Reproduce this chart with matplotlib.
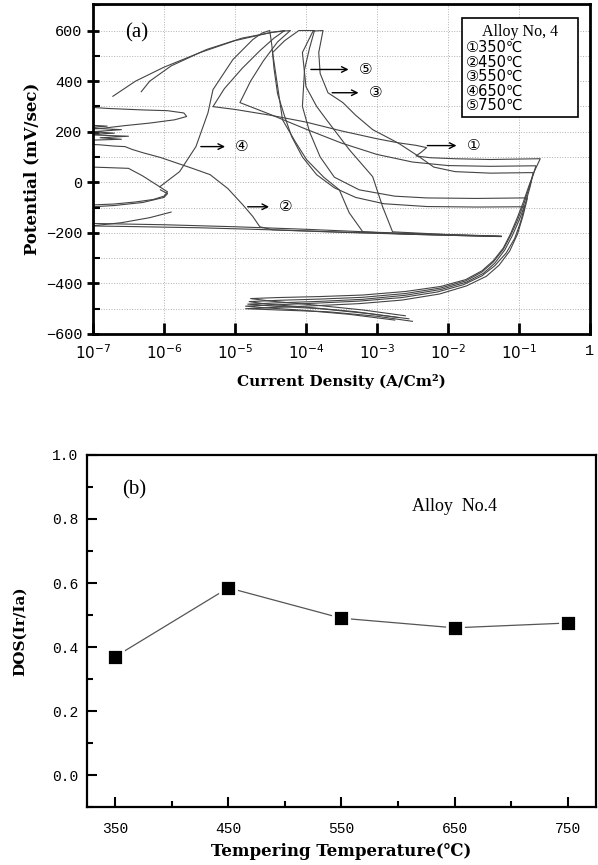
import numpy as np
import matplotlib
matplotlib.use('Agg')
import matplotlib.pyplot as plt
from matplotlib.patches import Rectangle
from matplotlib.ticker import MultipleLocator, NullLocator, FixedLocator

nan = np.nan

# ---- panel (a): polarization curves, log10(i) [A/cm2] vs potential [mV]
c1_logi = [-2.60, -3.20, -3.90, -4.50, -4.78, -4.40, -3.80, -3.20, -2.60, -2.10, -1.75, -1.52, -1.36, -1.22, -1.12, -1.03, -0.94, -0.86, -0.78, -0.70,
           -0.95, -1.40, -1.90, -2.25, -2.45, -2.38, -2.30, -2.45, -2.70, -3.00, -3.50, -4.00, -4.50, -5.00, -5.31, -5.15, -4.90, -4.65, -4.45, -4.30,
           -4.50, -5.00, -5.50, -6.00, -6.40, -6.72, nan,
           -7.2, -6.8, -6.3, -5.95, -5.72, -5.68, -5.85, -6.2, -6.55, -6.85, -7.2, nan,
           -7.2, -6.0, -5.0, -4.0, -3.0, -2.0, -1.5, -1.25]
c1_E = [-528, -505, -485, -470, -460, -456, -452, -446, -432, -412, -385, -350, -310, -260, -205, -145, -80, -15, 45, 93,
        92, 90, 93, 97, 104, 118, 137, 146, 156, 172, 203, 238, 265, 288, 299, 370, 450, 520, 570, 600,
        592, 560, 512, 455, 400, 340, nan,
        300, 292, 286, 283, 274, 260, 247, 234, 224, 214, 206, nan,
        -162, -168, -176, -186, -198, -207, -211, -214]

c2_logi = [-2.70, -3.30, -4.00, -4.55, -4.80, -4.40, -3.80, -3.20, -2.60, -2.10, -1.75, -1.52, -1.36, -1.22, -1.12, -1.02, -0.93, -0.85, -0.76,
           -0.82, -1.40, -2.00, -2.50, -3.00, -3.50, -4.00, -4.50, -4.93, -4.78, -4.60, -4.40, -4.22,
           -4.45, -4.90, -5.40, -5.90, -6.20, -6.32, nan,
           -7.2, -6.9, -6.7, -6.55, -6.45, -6.30, -6.05, -5.83, -5.60, -5.35, -5.10, -4.89, -4.75, -4.65, -4.47, -3.50, -2.50, -1.80, -1.25]
c2_E = [-535, -512, -494, -482, -472, -467, -462, -455, -440, -418, -390, -355, -315, -265, -212, -150, -85, -15, 65,
        65, 63, 66, 80, 110, 155, 210, 268, 315, 400, 480, 555, 600,
        594, 570, 525, 460, 400, 358, nan,
        152, 148, 143, 141, 130, 117, 98, 77, 55, 30, -25, -89, -135, -176, -188, -197, -205, -210, -214]

c3_logi = [-2.55, -3.10, -3.80, -4.45, -4.82, -4.40, -3.80, -3.20, -2.60, -2.10, -1.74, -1.50, -1.34, -1.20, -1.10, -1.00, -0.91, -0.84, -0.80,
           -0.86, -1.40, -1.90, -2.20, -2.40, -2.70, -3.06, -3.30, -3.48, -3.69, -3.80, -3.82, -3.76,
           -3.90, -4.05, -4.00, -3.85, -3.71, -3.39, -3.06, -2.92, -2.78, -2.00, -1.25, nan,
           -7.2, -6.8, -7.1, -6.6, -7.0, -6.7, -7.1, -6.5, -6.9, -6.6, -7.2]
c3_E = [-540, -520, -500, -490, -482, -477, -471, -463, -447, -424, -395, -360, -320, -268, -215, -152, -85, -15, 38,
        38, 36, 42, 60, 100, 155, 208, 265, 315, 354, 430, 513, 600,
        598, 513, 378, 300, 247, 129, 22, -97, -196, -207, -214, nan,
        228, 222, 215, 208, 200, 194, 188, 182, 176, 170, 165]

c4_logi = [-2.75, -3.40, -4.10, -4.60, -4.85, -4.45, -3.85, -3.25, -2.65, -2.15, -1.78, -1.52, -1.34, -1.18, -1.06, -0.98, -0.92,
           -0.98, -1.60, -2.30, -2.90, -3.30, -3.60, -3.85, -4.05, -4.20, -4.30, -4.40, -4.45, -4.48, -4.51,
           -4.62, -4.75, -5.03, -5.31, -5.38, -5.55, -5.78, -6.06, -5.95, -6.00, -6.15, -6.40, -6.70, -7.20, nan,
           -7.2, -6.5, -5.5, -4.5, -3.5, -2.5, -1.8, -1.25]
c4_E = [-545, -522, -505, -496, -490, -485, -478, -470, -456, -434, -405, -370, -330, -280, -222, -160, -97,
        -97, -98, -96, -85, -60, -22, 30, 100, 180, 260, 350, 450, 540, 600,
        590, 564, 485, 366, 275, 141, 42, -18, -38, -55, -68, -78, -86, -92, nan,
        -172, -175, -180, -188, -198, -206, -211, -215]

c5_logi = [-2.50, -3.00, -3.70, -4.40, -4.85, -4.45, -3.85, -3.25, -2.65, -2.12, -1.74, -1.46, -1.28, -1.13, -1.02, -0.94, -0.88,
           -0.94, -1.60, -2.30, -2.75, -3.25, -3.60, -3.80, -3.95, -4.05, -4.02, -3.95, -3.88,
           -4.10, -4.30, -4.47, -4.40, -4.33, -4.15, -3.99, -3.75, -3.53, -3.39, -3.20, -2.50, -1.80, -1.25, nan,
           -7.2, -6.8, -6.5, -6.3, -6.06, nan,
           -7.2, -6.7, -6.3, -6.0, -5.95, -6.05, nan,
           -7.2, -6.6, -6.2, -5.9]
c5_E = [-550, -530, -512, -505, -500, -495, -488, -480, -466, -442, -410, -372, -328, -272, -205, -130, -62,
        -62, -64, -62, -55, -30, 20, 100, 200, 300, 446, 530, 600,
        600, 560, 513, 380, 247, 160, 89, 20, -30, -121, -196, -206, -211, -214, nan,
        62, 58, 55, 25, -18, nan,
        -100, -92, -80, -60, -45, -30, nan,
        -178, -160, -140, -118]

legend_lines = ['\u2460350\u2103', '\u2461450\u2103', '\u2462550\u2103', '\u2463650\u2103', '\u2464750\u2103']
xtick_vals = [1e-7, 1e-6, 1e-5, 1e-4, 1e-3, 1e-2, 1e-1, 1]
xtick_labels = ['$10^{-7}$', '$10^{-6}$', '$10^{-5}$', '$10^{-4}$', '$10^{-3}$', '$10^{-2}$', '$10^{-1}$', '1']

# ---- panel (b): DOS vs tempering temperature
temps = [350, 450, 550, 650, 750]
dos = [0.37, 0.585, 0.49, 0.46, 0.475]

sym = ['DejaVu Sans', 'Noto Sans CJK KR']
serif = ['DejaVu Serif', 'Noto Sans CJK KR']
mono = 'Liberation Mono'

fig = plt.figure(figsize=(5.98, 8.65), dpi=100)

ax1 = fig.add_axes([0.1555, 0.6139, 0.831, 0.3815])
for logi, E in [(c1_logi, c1_E), (c2_logi, c2_E), (c3_logi, c3_E), (c4_logi, c4_E), (c5_logi, c5_E)]:
    ax1.plot(10 ** np.array(logi), E, color='#444444', lw=0.8)

ax1.set_xscale('log')
ax1.set_xlim(1e-7, 1)
ax1.set_ylim(-600, 705)
ax1.set_xticks(xtick_vals)
ax1.set_xticklabels(xtick_labels)
ax1.xaxis.set_minor_locator(NullLocator())
ax1.yaxis.set_major_locator(MultipleLocator(200))
ax1.yaxis.set_minor_locator(MultipleLocator(100))
ax1.grid(which='both', ls=':', color='#b0b0b0', lw=0.7)
ax1.tick_params(which='major', direction='inout', length=8, width=2, labelsize=11, labelfontfamily=mono)
ax1.tick_params(which='minor', direction='in', length=5, width=1.5)
ax1.tick_params(axis='x', which='major', direction='in', length=8, pad=7)
for s in ax1.spines.values():
    s.set_linewidth(2)
ax1.set_ylabel('Potential (mV/sec)', fontsize=12, fontweight='bold', family='DejaVu Serif', labelpad=4)
ax1.set_xlabel('Current Density (A/Cm\u00b2)', fontsize=11, fontweight='bold', family='DejaVu Serif', labelpad=8)
ax1.text(0.087, 0.912, '(a)', transform=ax1.transAxes, fontsize=15, family='Liberation Serif', ha='center', va='center')

# legend box
ax1.add_patch(Rectangle((0.742, 0.658), 0.234, 0.30, transform=ax1.transAxes, fc='white', ec='black', lw=1.2, zorder=5))
ax1.text(0.782, 0.915, 'Alloy No, 4', transform=ax1.transAxes, fontsize=11.5, family='Liberation Serif', ha='left', va='center', zorder=6)
for k, t in enumerate(legend_lines):
    ax1.text(0.750, 0.868 - k * 0.044, t, transform=ax1.transAxes, fontsize=10.5, family=sym, ha='left', va='center', zorder=6)

# arrows
arrows = [('\u2463', -5.52, -5.10, 141), ('\u2464', -3.97, -3.36, 446), ('\u2462', -3.67, -3.22, 354),
          ('\u2460', -2.33, -1.84, 145), ('\u2461', -4.86, -4.48, -97)]
for lab, x0, x1, y in arrows:
    ax1.annotate('', xy=(10 ** x1, y), xytext=(10 ** x0, y),
                 arrowprops=dict(arrowstyle='->', color='black', lw=1.0))
    ax1.text(10 ** (x1 + 0.2), y, lab, fontsize=11, family=sym, ha='center', va='center')

ax2 = fig.add_axes([0.1455, 0.067, 0.851, 0.407])
ax2.plot(temps, dos, color='#555555', lw=0.9, zorder=1)
ax2.plot(temps, dos, 's', ms=11, mfc='black', mec='white', mew=2, zorder=2)
ax2.set_xlim(325, 775)
ax2.set_ylim(-0.1, 1.0)
ax2.xaxis.set_major_locator(FixedLocator(temps))
ax2.xaxis.set_minor_locator(FixedLocator([400, 500, 600, 700]))
ax2.yaxis.set_major_locator(MultipleLocator(0.2))
ax2.yaxis.set_minor_locator(MultipleLocator(0.1))
ax2.tick_params(which='major', direction='in', length=7, width=1.5, labelsize=10.5, labelfontfamily=mono, pad=6)
ax2.tick_params(axis='x', which='major', pad=11)
ax2.tick_params(which='minor', direction='in', length=4, width=1.5)
ax2.set_yticks([0.0, 0.2, 0.4, 0.6, 0.8, 1.0])
ax2.set_yticklabels(['0.0', '0.2', '0.4', '0.6', '0.8', '1.0'])
for s in ax2.spines.values():
    s.set_linewidth(1.6)
ax2.set_ylabel('DOS(Ir/Ia)', fontsize=11, fontweight='bold', family='DejaVu Serif', labelpad=18)
ax2.set_xlabel('Tempering Temperature(\u2103)', fontsize=12, fontweight='bold', family=serif, labelpad=5)
ax2.text(367, 0.89, '(b)', fontsize=15, family='Liberation Serif', ha='center', va='center')
ax2.text(650, 0.838, 'Alloy  No.4', fontsize=13, family='Liberation Serif', ha='center', va='center')

fig.savefig('out.png', dpi=100)
